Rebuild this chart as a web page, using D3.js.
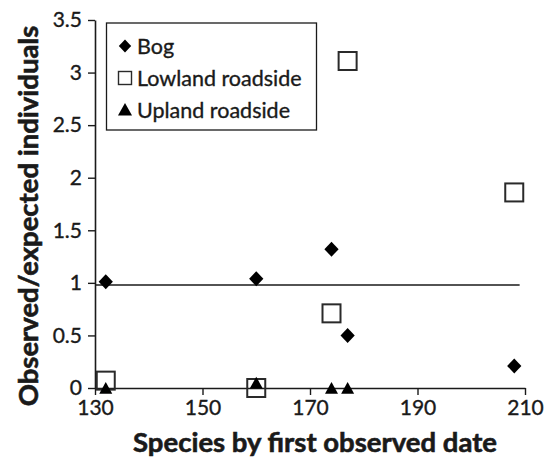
<!DOCTYPE html>
<html><head><meta charset="utf-8">
<script src="https://cdn.jsdelivr.net/npm/d3@7"></script>
<style>body{margin:0;background:#fff}svg{display:block}text{font-family:Lato,"Open Sans",sans-serif}</style>
</head><body>
<svg id="c" width="544" height="459"></svg>
<script>
const bogX = [132, 160, 174, 177, 208];
const bogY = [1.01, 1.04, 1.32, 0.50, 0.21];
const lowX = [132, 160, 174, 177, 208];
const lowY = [0.07, 0.0, 0.71, 3.11, 1.86];
const upX = [132, 160, 174, 177];
const upY = [0.0, 0.05, 0.0, 0.0];
const xTicks = [130, 150, 170, 190, 210];
const yTicks = [0, 0.5, 1, 1.5, 2, 2.5, 3, 3.5];
const refLine = {x0: 130, x1: 209, y: 0.98};
const seriesNames = ["Bog", "Lowland roadside", "Upland roadside"];

const svg = d3.select("#c");
const x = d3.scaleLinear().domain([130, 210]).range([95, 525]);
const y = d3.scaleLinear().domain([0, 3.5]).range([388, 20]);
const ink = "#1a1a1a";

// axes
const xAxis = svg.append("g").attr("transform", "translate(0,388)")
  .call(d3.axisBottom(x).tickValues(xTicks).tickSize(7).tickSizeOuter(0).tickPadding(5).tickFormat(d3.format("d")));
const yAxis = svg.append("g").attr("transform", "translate(95,0)")
  .call(d3.axisLeft(y).tickValues(yTicks).tickSize(7).tickSizeOuter(0).tickPadding(6).tickFormat(d => d3.format("")(d)));
[xAxis, yAxis].forEach(g => {
  g.select(".domain").attr("stroke", ink).attr("stroke-width", 1.6);
  g.selectAll(".tick line").attr("stroke", ink).attr("stroke-width", 1.4);
  g.selectAll(".tick text").attr("fill", ink).style("font-size", "21px").style("font-family", "Lato, sans-serif").style("font-weight", "normal")
    .attr("stroke", ink).attr("stroke-width", 0.35);
});

// reference line
svg.append("line")
  .attr("x1", x(refLine.x0)).attr("x2", x(refLine.x1))
  .attr("y1", y(refLine.y)).attr("y2", y(refLine.y))
  .attr("stroke", ink).attr("stroke-width", 1.6);

const diamond = s => `M0,${-s}L${s*0.95},0L0,${s}L${-s*0.95},0Z`;
const tri = s => `M0,${-s}L${s*1.0},${s*0.8}L${-s*1.0},${s*0.8}Z`;

// lowland squares
svg.append("g").selectAll("rect").data(lowX.map((d, i) => [d, lowY[i]])).join("rect")
  .attr("x", d => x(d[0]) - 9).attr("y", d => y(d[1]) - 9)
  .attr("width", 18).attr("height", 18)
  .attr("fill", "none").attr("stroke", "#2a2a2a").attr("stroke-width", 2);

// bog diamonds
svg.append("g").selectAll("path").data(bogX.map((d, i) => [d, bogY[i]])).join("path")
  .attr("transform", d => `translate(${x(d[0])},${y(d[1])})`)
  .attr("d", diamond(7.5)).attr("fill", "#000");

// upland triangles
svg.append("g").selectAll("path").data(upX.map((d, i) => [d, upY[i]])).join("path")
  .attr("transform", d => `translate(${x(d[0])},${y(d[1]) + 0.5})`)
  .attr("d", tri(6.5)).attr("fill", "#000");

// legend
const lg = svg.append("g");
lg.append("rect").attr("x", 106.5).attr("y", 23).attr("width", 210).attr("height", 107)
  .attr("fill", "#fff").attr("stroke", ink).attr("stroke-width", 1.3);
const ly = [46, 78, 110];
lg.append("path").attr("transform", `translate(125,${ly[0]})`).attr("d", diamond(6.5)).attr("fill", "#000");
lg.append("rect").attr("x", 118.5).attr("y", ly[1] - 6.5).attr("width", 13).attr("height", 13)
  .attr("fill", "none").attr("stroke", "#2a2a2a").attr("stroke-width", 1.4);
lg.append("path").attr("transform", `translate(125,${ly[2]})`).attr("d", tri(7)).attr("fill", "#000");
seriesNames.forEach((n, i) => {
  lg.append("text").attr("x", 137).attr("y", ly[i] + 7.5).text(n)
    .attr("fill", ink).style("font-size", "21.5px").attr("stroke", ink).attr("stroke-width", 0.35);
});

// axis titles
svg.append("text").attr("x", 315).attr("y", 452).attr("text-anchor", "middle")
  .style("font-size", "27.5px").style("font-weight", "bold").attr("fill", ink)
  .attr("stroke", ink).attr("stroke-width", 0.6)
  .text("Species by first observed date");
svg.append("text").attr("transform", "translate(38,216) rotate(-90)").attr("text-anchor", "middle")
  .style("font-size", "27.5px").style("font-weight", "bold").attr("fill", ink)
  .attr("stroke", ink).attr("stroke-width", 0.6)
  .text("Observed/expected individuals");
</script>
</body></html>
